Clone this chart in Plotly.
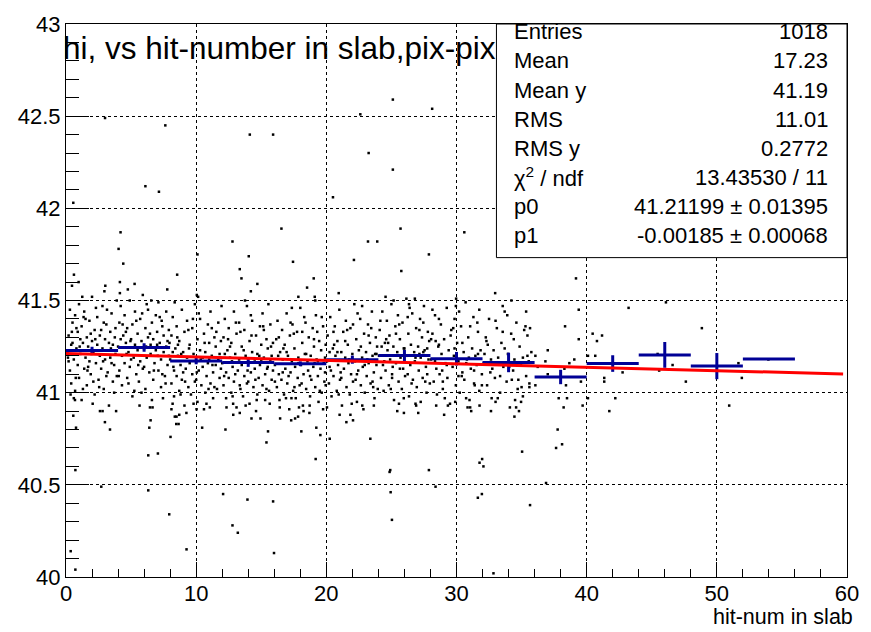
import plotly.graph_objects as go

# ---------------- data ----------------
# scattered entries (x = hit number in slab, y = value)
outliers = [
    (3.0, 42.49), (7.63, 42.45), (14.12, 42.40), (15.91, 42.40), (25.11, 42.59), (28.13, 42.54),
    (22.61, 42.51), (23.25, 42.30), (25.11, 42.21), (6.1, 42.12), (7.14, 42.09), (0.56, 42.03),
    (20.51, 42.06), (4.19, 41.87), (16.55, 41.89), (25.7, 41.89), (30.6, 41.87),
    (12.79, 41.82), (4.04, 41.78), (10.1, 41.75), (14.04, 41.74), (4.4, 41.70), (13.35, 41.67),
    (0.61, 41.64), (8.54, 41.64), (13.48, 41.62), (0.97, 41.60), (0.46, 41.58), (3.02, 41.58),
    (4.14, 41.60), (5.27, 41.59), (14.7, 41.59), (14.2, 41.55), (7.78, 41.56), (4.14, 41.54),
    (10.05, 41.53), (17.44, 41.71), (17.85, 41.52),
    (23.2, 41.82), (23.91, 41.82), (27.88, 41.75), (22.12, 41.72), (25.76, 41.66), (19.03, 41.62),
    (18.52, 41.57), (19.11, 41.52), (26.8, 41.51), (25.17, 41.50), (32.97, 41.54), (34.22, 41.50),
    (29.97, 41.51),
    (18.72, 40.93), (19.75, 40.91), (21.02, 40.88), (21.54, 40.84), (22.05, 40.85), (22.76, 40.93),
    (18.08, 40.79), (19.23, 40.81), (19.54, 40.77), (20.26, 40.75), (19.18, 40.64), (23.38, 40.75),
    (25.58, 40.94), (25.96, 40.89), (27.06, 40.89), (26.9, 40.93), (28.44, 40.93), (29.34, 40.93),
    (30.74, 40.97), (31.13, 40.90), (31.77, 40.93), (33.17, 40.97), (34.58, 40.92), (34.96, 40.95),
    (35.04, 40.68), (31.97, 40.64), (31.77, 40.62), (24.91, 40.58), (27.88, 40.58),
    (2.61, 40.90), (2.81, 40.90), (2.99, 40.84), (3.38, 40.80), (6.45, 40.92), (6.65, 40.92),
    (6.4, 40.81), (6.32, 40.66), (7.06, 40.67), (8.49, 40.87), (8.65, 40.83), (8.03, 40.76),
    (0.69, 40.96), (0.56, 40.875), (0.77, 40.81),
    (10.03, 40.91), (10.79, 40.94), (12.33, 40.92), (12.84, 40.94), (12.25, 40.80), (13.35, 40.89),
    (14.25, 40.86), (14.94, 40.86), (15.52, 40.79), (15.4, 40.73), (15.65, 40.94), (16.42, 40.92),
    (17.83, 40.87), (17.32, 40.97), (6.5, 40.85), (8.1, 40.91), (8.36, 40.87), (8.7, 40.88),
    (8.47, 40.83), (8.19, 40.94), (10.46, 40.81), (17.3, 40.85), (17.6, 40.86),
    (0.72, 40.58), (2.71, 40.49), (6.32, 40.47), (7.93, 40.34), (9.26, 40.15), (0.36, 40.14),
    (0.72, 40.04), (12.07, 40.45), (13.94, 40.42), (15.91, 40.41), (12.79, 40.28), (13.2, 40.24),
    (15.98, 40.13), (24.86, 40.57), (28.39, 40.49), (24.94, 40.46), (25.04, 40.31), (32.07, 40.60),
    (31.64, 40.43), (31.95, 40.45), (35.65, 40.39), (32.84, 40.02),
    (39.18, 41.62), (39.39, 41.45), (38.34, 41.36), (39.39, 41.29), (37.01, 41.23), (36.06, 41.20),
    (36.83, 41.17), (36.24, 41.14), (35.65, 41.35), (37.01, 41.10), (38.41, 41.04), (36.06, 41.04),
    (35.6, 41.03), (39.56, 41.06), (38.29, 41.13), (38.67, 41.16), (39.05, 41.18), (37.85, 40.97),
    (38.49, 40.97), (38.23, 40.92), (39.69, 40.93), (37.77, 40.80), (37.65, 40.70), (38.11, 40.72),
    (36.88, 40.51), (40.1, 40.97), (40.46, 41.32), (41.18, 41.31), (40.79, 41.28), (43.22, 41.46),
    (40.66, 41.20), (41.35, 41.08), (41.35, 41.06), (42.2, 40.97), (41.74, 40.90), (42.76, 41.11),
    (45.45, 41.21), (45.57, 41.12), (46.6, 41.15), (47.62, 41.06), (46.09, 41.49), (48.85, 41.35),
    (51.66, 41.16), (51.92, 41.08), (50.95, 40.93), (40.1, 41.20), (53.96, 41.18),
]

core_0_8 = [
    (0.1, 41.22), (0.2, 41.31), (0.3, 41.45), (0.3, 41.12), (0.4, 41.05), (0.5, 41.27), (0.5, 41.38),
    (0.6, 41.18), (0.7, 41.42), (0.7, 41.01), (0.8, 41.24), (0.9, 41.33), (0.9, 41.15), (1.0, 41.48),
    (1.0, 41.08), (1.1, 41.21), (1.2, 41.36), (1.2, 40.96), (1.3, 41.27), (1.4, 41.13), (1.4, 41.44),
    (1.5, 41.19), (1.6, 41.30), (1.6, 41.04), (1.7, 41.25), (1.8, 41.39), (1.8, 41.17), (1.9, 41.10),
    (2.0, 41.28), (2.0, 41.52), (2.1, 41.22), (2.2, 41.34), (2.2, 40.99), (2.3, 41.16), (2.4, 41.26),
    (2.4, 41.41), (2.5, 41.07), (2.6, 41.20), (2.6, 41.31), (2.7, 41.13), (2.8, 41.47), (2.8, 41.24),
    (2.9, 41.02), (3.0, 41.29), (3.0, 41.18), (3.1, 41.37), (3.2, 41.11), (3.2, 41.23), (3.3, 40.93),
    (3.4, 41.33), (3.4, 41.19), (3.5, 41.43), (3.6, 41.06), (3.6, 41.26), (3.7, 41.15), (3.8, 41.35),
    (3.8, 41.21), (3.9, 41.09), (3.9, 41.50), (0.2, 41.17), (0.6, 40.97), (1.1, 41.29), (1.5, 41.40),
    (2.1, 41.06), (2.7, 41.34), (3.3, 41.27), (3.7, 41.00), (1.7, 41.14), (2.9, 41.38), (0.8, 41.35),
    (1.3, 41.02), (2.3, 41.46), (3.5, 41.16), (0.4, 41.26), (1.9, 41.32), (3.1, 41.09),
    (4.0, 41.25), (4.1, 41.38), (4.1, 41.12), (4.2, 41.47), (4.3, 41.20), (4.3, 41.04), (4.4, 41.31),
    (4.5, 41.16), (4.5, 41.42), (4.6, 41.27), (4.7, 41.08), (4.7, 41.35), (4.8, 41.22), (4.9, 41.50),
    (4.9, 41.14), (5.0, 41.29), (5.1, 40.98), (5.1, 41.37), (5.2, 41.19), (5.3, 41.26), (5.3, 41.44),
    (5.4, 41.10), (5.5, 41.32), (5.5, 41.23), (5.6, 41.06), (5.7, 41.40), (5.7, 41.17), (5.8, 41.28),
    (5.9, 41.13), (5.9, 41.53), (6.0, 41.24), (6.1, 41.35), (6.1, 41.02), (6.2, 41.19), (6.3, 41.30),
    (6.3, 41.45), (6.4, 41.11), (6.5, 41.26), (6.5, 41.21), (6.6, 41.38), (6.7, 41.07), (6.7, 41.29),
    (6.8, 41.16), (6.9, 41.42), (6.9, 41.23), (7.0, 41.33), (7.1, 41.12), (7.1, 41.49), (7.2, 41.27),
    (7.3, 41.18), (7.3, 41.03), (7.4, 41.36), (7.5, 41.22), (7.5, 41.31), (7.6, 41.09), (7.7, 41.44),
    (7.7, 41.25), (7.8, 41.15), (7.9, 41.34), (7.9, 41.20), (4.2, 41.29), (4.8, 41.05), (5.4, 41.39),
    (6.0, 41.14), (6.6, 40.96), (7.2, 41.41), (7.8, 41.28), (5.0, 41.18), (6.2, 41.48), (7.4, 41.10),
    (4.6, 41.33), (5.8, 41.00), (7.0, 41.26),
]

core_8_16 = [
    (8.0, 41.18), (8.1, 41.31), (8.1, 41.05), (8.2, 41.41), (8.3, 41.12), (8.3, 40.98), (8.4, 41.24),
    (8.5, 41.09), (8.5, 41.36), (8.6, 41.20), (8.7, 41.01), (8.7, 41.28), (8.8, 41.15), (8.9, 41.45),
    (8.9, 41.07), (9.0, 41.22), (9.1, 40.93), (9.1, 41.33), (9.2, 41.13), (9.3, 41.19), (9.3, 41.39),
    (9.4, 41.03), (9.5, 41.26), (9.5, 41.16), (9.6, 40.99), (9.7, 41.35), (9.7, 41.10), (9.8, 41.21),
    (9.9, 41.06), (9.9, 41.48), (10.0, 41.17), (10.1, 41.29), (10.1, 40.95), (10.2, 41.12), (10.3, 41.23),
    (10.3, 41.40), (10.4, 41.04), (10.5, 41.19), (10.5, 41.14), (10.6, 41.32), (10.7, 41.00), (10.7, 41.22),
    (10.8, 41.09), (10.9, 41.37), (10.9, 41.16), (11.0, 41.27), (11.1, 41.05), (11.1, 41.44), (11.2, 41.20),
    (11.3, 41.11), (11.3, 40.97), (11.4, 41.30), (11.5, 41.15), (11.5, 41.25), (11.6, 41.02), (11.7, 41.38),
    (11.7, 41.18), (11.8, 41.08), (11.9, 41.28), (11.9, 41.13), (8.2, 41.22), (8.8, 40.99), (9.4, 41.34),
    (10.0, 41.07), (10.6, 40.91), (11.2, 41.35), (11.8, 41.21), (9.0, 41.11), (10.2, 41.43), (11.4, 41.03),
    (8.6, 41.26), (9.8, 40.94), (11.0, 41.18),
    (12.0, 41.16), (12.1, 41.30), (12.1, 41.04), (12.2, 41.40), (12.3, 41.11), (12.3, 40.97), (12.4, 41.23),
    (12.5, 41.08), (12.5, 41.35), (12.6, 41.19), (12.7, 41.00), (12.7, 41.27), (12.8, 41.14), (12.9, 41.44),
    (12.9, 41.06), (13.0, 41.21), (13.1, 40.92), (13.1, 41.32), (13.2, 41.12), (13.3, 41.18), (13.3, 41.38),
    (13.4, 41.02), (13.5, 41.25), (13.5, 41.15), (13.6, 40.98), (13.7, 41.34), (13.7, 41.09), (13.8, 41.20),
    (13.9, 41.05), (13.9, 41.47), (14.0, 41.16), (14.1, 41.28), (14.1, 40.94), (14.2, 41.11), (14.3, 41.22),
    (14.3, 41.39), (14.4, 41.03), (14.5, 41.18), (14.5, 41.13), (14.6, 41.31), (14.7, 40.99), (14.7, 41.21),
    (14.8, 41.08), (14.9, 41.36), (14.9, 41.15), (15.0, 41.26), (15.1, 41.04), (15.1, 41.43), (15.2, 41.19),
    (15.3, 41.10), (15.3, 40.96), (15.4, 41.29), (15.5, 41.14), (15.5, 41.24), (15.6, 41.01), (15.7, 41.37),
    (15.7, 41.17), (15.8, 41.07), (15.9, 41.27), (15.9, 41.12), (12.2, 41.21), (12.8, 40.98), (13.4, 41.33),
    (14.0, 41.06), (14.6, 40.90), (15.2, 41.34), (15.8, 41.20), (13.0, 41.10), (14.2, 41.42), (15.4, 41.02),
    (12.6, 41.25), (13.8, 40.93), (15.0, 41.17),
]

core_16_24 = [
    (16.05, 41.15), (16.15, 41.29), (16.2, 41.03), (16.25, 41.39), (16.35, 41.10), (16.4, 40.96),
    (16.45, 41.22), (16.55, 41.07), (16.6, 41.34), (16.65, 41.18), (16.75, 40.99), (16.8, 41.26),
    (16.85, 41.13), (16.95, 41.43), (17.0, 41.05), (17.05, 41.20), (17.15, 40.91), (17.2, 41.31),
    (17.25, 41.11), (17.35, 41.17), (17.4, 41.37), (17.45, 41.01), (17.55, 41.24), (17.6, 41.14),
    (17.65, 40.97), (17.75, 41.33), (17.8, 41.08), (17.85, 41.19), (17.95, 41.04), (18.0, 41.46),
    (18.05, 41.15), (18.15, 41.27), (18.2, 40.93), (18.25, 41.10), (18.35, 41.21), (18.4, 41.38),
    (18.45, 41.02), (18.55, 41.17), (18.6, 41.12), (18.65, 41.30), (18.75, 40.98), (18.8, 41.20),
    (18.85, 41.07), (18.95, 41.35), (19.0, 41.14), (19.05, 41.25), (19.15, 41.03), (19.2, 41.42),
    (19.25, 41.18), (19.35, 41.09), (19.4, 40.95), (19.45, 41.28), (19.55, 41.13), (19.6, 41.23),
    (19.65, 41.00), (19.75, 41.36), (19.8, 41.16), (19.85, 41.06), (19.95, 41.26), (19.9, 41.11),
    (16.3, 41.20), (16.9, 40.97), (17.5, 41.32), (18.1, 41.05), (18.7, 40.89), (19.3, 41.33),
    (19.9, 41.19), (17.1, 41.09), (18.3, 41.41), (19.5, 41.01), (16.7, 41.24), (17.9, 40.92), (19.1, 41.16),
    (20.05, 41.17), (20.1, 41.31), (20.2, 41.05), (20.3, 41.41), (20.35, 41.12), (20.4, 40.98),
    (20.5, 41.24), (20.55, 41.09), (20.65, 41.36), (20.7, 41.20), (20.8, 41.01), (20.85, 41.28),
    (20.9, 41.15), (21.0, 41.45), (21.05, 41.07), (21.15, 41.22), (21.2, 40.93), (21.3, 41.33),
    (21.35, 41.13), (21.45, 41.19), (21.5, 41.39), (21.55, 41.03), (21.65, 41.26), (21.7, 41.16),
    (21.8, 40.99), (21.85, 41.35), (21.9, 41.10), (22.0, 41.21), (22.05, 41.06), (22.15, 41.48),
    (22.2, 41.17), (22.3, 41.29), (22.35, 40.95), (22.45, 41.12), (22.5, 41.23), (22.6, 41.40),
    (22.65, 41.04), (22.75, 41.19), (22.8, 41.14), (22.9, 41.32), (22.95, 41.00), (23.05, 41.22),
    (23.1, 41.09), (23.2, 41.37), (23.25, 41.16), (23.35, 41.27), (23.4, 41.05), (23.5, 41.44),
    (23.55, 41.20), (23.65, 41.11), (23.7, 40.97), (23.8, 41.30), (23.85, 41.15), (23.9, 41.25),
    (23.95, 41.02), (20.25, 41.22), (20.95, 40.99), (21.6, 41.34), (22.25, 41.07), (22.85, 40.91),
    (23.45, 41.35), (23.75, 41.21), (21.1, 41.11), (22.4, 41.43), (23.6, 41.03), (20.6, 41.26),
    (21.95, 40.94), (23.15, 41.18),
]

core_24_36 = [
    (24.05, 41.20), (24.1, 41.34), (24.2, 41.08), (24.3, 41.44), (24.35, 41.15), (24.4, 41.01),
    (24.5, 41.27), (24.55, 41.12), (24.65, 41.39), (24.7, 41.23), (24.8, 41.04), (24.85, 41.31),
    (24.9, 41.18), (25.0, 41.48), (25.05, 41.10), (25.15, 41.25), (25.2, 40.96), (25.3, 41.36),
    (25.35, 41.16), (25.45, 41.22), (25.5, 41.42), (25.55, 41.06), (25.65, 41.29), (25.7, 41.19),
    (25.8, 41.02), (25.85, 41.38), (25.9, 41.13), (26.0, 41.24), (26.05, 41.09), (26.15, 41.51),
    (26.2, 41.20), (26.3, 41.32), (26.35, 40.98), (26.45, 41.15), (26.5, 41.26), (26.6, 41.43),
    (26.65, 41.07), (26.75, 41.22), (26.8, 41.17), (26.9, 41.35), (26.95, 41.03), (27.05, 41.25),
    (27.1, 41.12), (27.2, 41.40), (27.25, 41.19), (27.35, 41.30), (27.4, 41.08), (27.5, 41.47),
    (27.55, 41.23), (27.65, 41.14), (27.7, 41.00), (27.8, 41.33), (27.85, 41.18), (27.9, 41.28),
    (27.95, 41.05), (24.25, 41.25), (24.95, 41.02), (25.6, 41.37), (26.25, 41.10), (26.85, 40.94),
    (27.45, 41.38), (27.75, 41.24), (25.1, 41.14), (26.4, 41.46), (27.6, 41.06), (24.6, 41.29),
    (25.95, 40.97), (27.15, 41.21),
    (28.05, 41.18), (28.15, 41.32), (28.25, 41.06), (28.35, 41.42), (28.45, 41.13), (28.5, 40.99),
    (28.6, 41.25), (28.7, 41.10), (28.8, 41.37), (28.85, 41.21), (28.95, 41.02), (29.05, 41.29),
    (29.15, 41.16), (29.25, 41.46), (29.3, 41.08), (29.4, 41.23), (29.5, 40.94), (29.6, 41.34),
    (29.7, 41.14), (29.8, 41.20), (29.85, 41.40), (29.95, 41.04), (30.05, 41.27), (30.15, 41.17),
    (30.25, 41.00), (30.35, 41.36), (30.45, 41.11), (30.55, 41.22), (30.6, 41.07), (30.7, 41.49),
    (30.8, 41.18), (30.9, 41.30), (31.0, 40.96), (31.1, 41.13), (31.2, 41.24), (31.3, 41.41),
    (31.35, 41.05), (31.45, 41.20), (31.55, 41.15), (31.65, 41.33), (31.75, 41.01), (31.85, 41.23),
    (31.95, 41.10), (28.4, 41.28), (29.1, 40.97), (29.75, 41.35), (30.4, 41.09), (31.05, 40.92),
    (31.6, 41.38), (28.9, 41.12), (30.2, 41.44), (31.4, 41.04), (28.65, 41.26), (29.9, 40.95),
    (30.95, 41.19),
    (32.1, 41.16), (32.25, 41.30), (32.35, 41.04), (32.5, 41.40), (32.6, 41.11), (32.7, 40.97),
    (32.85, 41.23), (32.95, 41.08), (33.1, 41.35), (33.2, 41.19), (33.35, 41.00), (33.45, 41.27),
    (33.6, 41.14), (33.7, 41.44), (33.85, 41.06), (33.95, 41.21), (34.1, 40.92), (34.2, 41.32),
    (34.35, 41.12), (34.45, 41.18), (34.6, 41.38), (34.7, 41.02), (34.85, 41.25), (34.95, 41.15),
    (35.1, 40.98), (35.2, 41.34), (35.35, 41.09), (35.45, 41.20), (35.6, 41.05), (35.75, 41.22),
    (32.4, 41.26), (33.0, 40.95), (33.55, 41.33), (34.25, 41.07), (34.8, 40.90), (35.3, 41.36),
    (32.75, 41.13), (33.9, 41.42), (35.0, 41.03), (32.15, 41.21), (34.5, 40.96), (35.55, 41.17),
]

core_extra = [
    (0.15, 41.19), (0.45, 41.33), (0.75, 41.08), (1.05, 41.25), (1.35, 41.41), (1.65, 41.12),
    (1.95, 41.21), (2.25, 41.29), (2.55, 41.03), (2.85, 41.17), (3.15, 41.45), (3.45, 41.24),
    (3.75, 41.30), (4.05, 41.09), (4.35, 41.37), (4.65, 41.21), (4.95, 41.28), (5.25, 41.01),
    (5.55, 41.15), (5.85, 41.43), (6.15, 41.25), (6.45, 41.32), (6.75, 41.12), (7.05, 41.20),
    (7.35, 41.39), (7.65, 41.05), (7.95, 41.27), (8.25, 41.14), (8.55, 41.30), (8.85, 41.21),
    (9.15, 41.06), (9.45, 41.24), (9.75, 41.40), (10.05, 41.11), (10.35, 41.18), (10.65, 41.27),
    (10.95, 41.02), (11.25, 41.15), (11.55, 41.33), (11.85, 41.19), (12.15, 41.09), (12.45, 41.29),
    (12.75, 41.17), (13.05, 41.38), (13.35, 41.04), (13.65, 41.23), (13.95, 41.12), (14.25, 41.31),
    (14.55, 41.07), (14.85, 41.20), (15.15, 41.36), (15.45, 41.13), (15.75, 41.25), (16.05, 41.06),
    (16.35, 41.30), (16.65, 41.11), (16.95, 41.22), (17.25, 41.38), (17.55, 41.03), (17.85, 41.16),
    (18.15, 41.33), (18.45, 41.21), (18.75, 41.09), (19.05, 41.29), (19.35, 41.17), (19.65, 41.41),
    (19.95, 41.04), (20.25, 41.14), (20.55, 41.33), (20.85, 41.22), (21.15, 41.08), (21.45, 41.28),
    (21.75, 41.18), (22.05, 41.37), (22.35, 41.10), (22.65, 41.25), (22.95, 41.15), (23.25, 41.31),
    (23.55, 41.06), (23.85, 41.21), (24.15, 41.39), (24.45, 41.17), (24.75, 41.27), (25.05, 41.08),
    (25.35, 41.32), (25.65, 41.13), (25.95, 41.24), (26.25, 41.41), (26.55, 41.05), (26.85, 41.19),
    (27.15, 41.34), (27.45, 41.22), (27.75, 41.10), (28.05, 41.29), (28.35, 41.17), (28.65, 41.40),
    (28.95, 41.06), (29.25, 41.15), (29.55, 41.31), (29.85, 41.24), (30.15, 41.09), (30.45, 41.27),
    (30.75, 41.16), (31.05, 41.36), (31.35, 41.12), (31.65, 41.21), (31.95, 41.04), (32.3, 41.28),
    (32.65, 41.18), (33.0, 41.39), (33.35, 41.09), (33.7, 41.24), (34.05, 41.14), (34.4, 41.29),
    (34.75, 41.07), (35.1, 41.19), (35.45, 41.31),
    (0.35, 40.99), (1.25, 41.52), (2.05, 40.94), (2.95, 41.55), (3.85, 40.90), (4.75, 41.56),
    (5.65, 40.93), (6.55, 41.50), (7.45, 40.97), (8.35, 41.49), (9.25, 40.89), (10.15, 41.52),
    (11.05, 40.92), (11.95, 41.47), (12.85, 40.88), (13.75, 41.50), (14.65, 40.96), (15.55, 41.48),
    (16.45, 40.86), (17.35, 41.46), (18.25, 40.90), (19.15, 41.50), (20.05, 40.92), (20.95, 41.54),
    (21.85, 40.88), (22.75, 41.47), (23.65, 40.93), (24.55, 41.52), (25.45, 40.90), (26.35, 41.48),
    (27.25, 40.95), (28.15, 41.45), (29.05, 40.88), (29.95, 41.47), (30.85, 40.92), (31.75, 41.45),
    (32.65, 40.90), (33.55, 41.47), (34.45, 40.87), (35.35, 41.44),
]

# profile (bins of width 4)
prof_x = [2, 6, 10, 14, 18, 22, 26, 30, 34, 38, 42, 46, 50, 54]
prof_halfwidth = [2] * 14
prof_y = [41.229, 41.245, 41.172, 41.164, 41.157, 41.179, 41.202, 41.184, 41.164,
          41.085, 41.158, 41.205, 41.144, 41.183]
prof_err = [0.020, 0.023, 0.018, 0.024, 0.013, 0.022, 0.030, 0.037, 0.053,
            0.039, 0.045, 0.070, 0.071, 0.0]

# linear fit pol1
p0 = 41.21199
p1 = -0.00185
fit_x = [0.0, 59.7]

stats_labels = ["Entries", "Mean", "Mean y", "RMS", "RMS y", "χ<sup>2</sup> / ndf", "p0", "p1"]
stats_values = ["1018", "17.23", "41.19", "11.01", "0.2772", "13.43530 / 11",
                "41.21199 ± 0.01395", "-0.00185 ± 0.00068"]

title_text = "hi, vs hit-number in slab,pix-pix"
xtitle_text = "hit-num in slab"

# ---------------- figure ----------------
W, H = 871, 632
ML, MR, MT, MB = 66, 23, 16, 55
FONT = "Liberation Sans, Arial, sans-serif"

pts = outliers + core_0_8 + core_8_16 + core_16_24 + core_24_36 + core_extra
sx = [p[0] for p in pts]
sy = [p[1] for p in pts]

fig = go.Figure()
fig.add_trace(go.Scatter(
    x=sx, y=sy, mode="markers",
    marker=dict(symbol="square", size=2.5, color="black", line=dict(width=0)),
    hoverinfo="skip", showlegend=False))

blue = "rgb(0,0,150)"
fig.add_trace(go.Scatter(
    x=prof_x, y=prof_y, mode="markers",
    marker=dict(size=0.1, color=blue),
    error_x=dict(type="data", array=prof_halfwidth, color=blue, thickness=3, width=0),
    error_y=dict(type="data", array=prof_err, color=blue, thickness=3, width=0),
    showlegend=False))

fit_y = [p0 + p1 * x for x in fit_x]
fig.add_trace(go.Scatter(x=fit_x, y=fit_y, mode="lines",
                         line=dict(color="rgb(255,0,0)", width=3), showlegend=False))

pw = W - ML - MR
ph = H - MT - MB

def px2paper_x(px):
    return (px - ML) / pw

def py2paper_y(py):
    return (H - MB - py) / ph

shapes = [dict(type="rect", xref="paper", yref="paper",
               x0=px2paper_x(497), x1=1.0, y0=py2paper_y(253), y1=1.0,
               fillcolor="white", line=dict(color="black", width=1), layer="above")]

annotations = []
row_y = [24, 53.5, 83, 112.5, 142, 171.5, 201, 230.5]
for lab, val, ry in zip(stats_labels, stats_values, row_y):
    annotations.append(dict(text=lab, xref="paper", yref="paper", x=px2paper_x(513),
                            y=py2paper_y(ry), xanchor="left", yanchor="middle",
                            showarrow=False, font=dict(family=FONT, size=22, color="black")))
    annotations.append(dict(text=val, xref="paper", yref="paper", x=px2paper_x(831),
                            y=py2paper_y(ry), xanchor="right", yanchor="middle",
                            showarrow=False, font=dict(family=FONT, size=22, color="black")))

annotations.append(dict(text=title_text, xref="paper", yref="paper", x=px2paper_x(61),
                        y=py2paper_y(40), xanchor="left", yanchor="middle", showarrow=False,
                        font=dict(family=FONT, size=31.5, color="black")))
annotations.append(dict(text=xtitle_text, xref="paper", yref="paper", x=px2paper_x(856),
                        y=py2paper_y(617.5), xanchor="right", yanchor="middle", showarrow=False,
                        font=dict(family=FONT, size=21.5, color="black")))

axis_common = dict(showline=True, linecolor="black", linewidth=1, mirror=True,
                   ticks="inside", tickcolor="black", tickwidth=1,
                   showgrid=True, gridcolor="black", gridwidth=1, griddash="dot",
                   zeroline=False, tickfont=dict(family=FONT, size=22, color="black"))

fig.update_layout(
    width=W, height=H, margin=dict(l=ML, r=MR, t=MT, b=MB),
    paper_bgcolor="white", plot_bgcolor="white",
    xaxis=dict(range=[0, 60], dtick=10, tick0=0, ticklen=15, ticklabelstandoff=-3,
               minor=dict(ticks="inside", ticklen=8, dtick=2, tickcolor="black", showgrid=False),
               **axis_common),
    yaxis=dict(range=[40, 43], dtick=0.5, tick0=40, ticklen=23,
               minor=dict(ticks="inside", ticklen=13, dtick=0.1, tickcolor="black", showgrid=False),
               **axis_common),
    shapes=shapes, annotations=annotations, showlegend=False,
)

fig.write_html("out.html")
